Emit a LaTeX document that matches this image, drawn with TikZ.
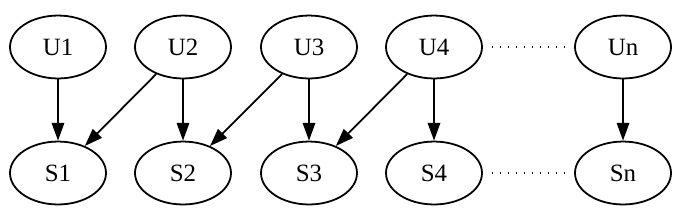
\documentclass[tikz,border=0pt]{standalone}
\usepackage{fontspec}
\setmainfont{Liberation Serif}
\usetikzlibrary{arrows.meta, positioning, shapes.geometric}
\tikzset{
  unit/.style   = {ellipse, draw, line width=1pt, minimum width=54pt, minimum height=35.4pt,
                   inner sep=0pt, font=\fontsize{14pt}{16pt}\selectfont},
  infl/.style   = {-{Triangle[length=10pt, width=7pt]}, line width=1pt},
  gap/.style    = {line width=0.9pt, dash pattern=on 0.9pt off 3.6pt, shorten <=5pt, shorten >=3pt},
}
\begin{document}
\begin{tikzpicture}[x=0.5625pt, y=-0.5625pt]
  \useasboundingbox (0,0) rectangle (686,219);
  % ---- top row
  \node[unit] (u1) at (58,47) {U1};
  \node[unit] (u2) at (183,47) {U2};
  \node[unit] (u3) at (309,47) {U3};
  \node[unit] (u4) at (434,47) {U4};
  \node[unit] (un) at (623,47) {Un};
  % ---- bottom row
  \node[unit] (s1) at (58,173) {S1};
  \node[unit] (s2) at (183,173) {S2};
  \node[unit] (s3) at (309,173) {S3};
  \node[unit] (s4) at (434,173) {S4};
  \node[unit] (sn) at (623,173) {Sn};
  % ---- edges
  \draw[infl] (u1) -- (s1);
  \draw[infl] (u2) -- (s1);
  \draw[infl] (u2) -- (s2);
  \draw[infl] (u3) -- (s2);
  \draw[infl] (u3) -- (s3);
  \draw[infl] (u4) -- (s3);
  \draw[infl] (u4) -- (s4);
  \draw[infl] (un) -- (sn);
  % ---- omitted units
  \draw[gap] (u4) -- (un);
  \draw[gap] (s4) -- (sn);
\end{tikzpicture}
\end{document}
